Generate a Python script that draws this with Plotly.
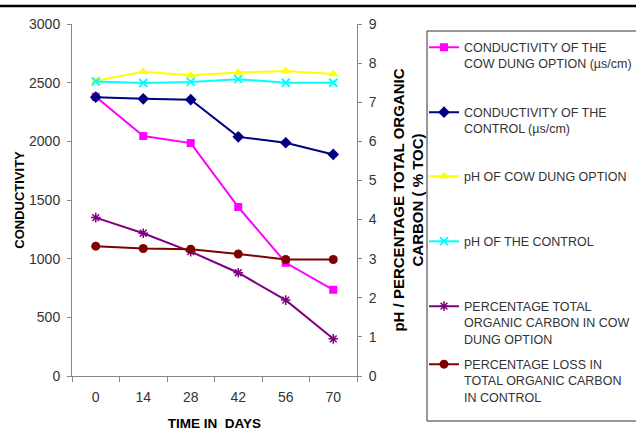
import plotly.graph_objects as go

# ---- data ----
days = ["0", "14", "28", "42", "56", "70"]
cond_cow = [2380, 2045, 1985, 1440, 965, 735]
cond_ctrl = [2376, 2362, 2355, 2038, 1988, 1888]
ph_cow = [7.55, 7.78, 7.69, 7.76, 7.80, 7.72]
ph_ctrl = [7.53, 7.49, 7.52, 7.59, 7.50, 7.50]
toc_cow = [4.05, 3.65, 3.18, 2.64, 1.94, 0.95]
toc_loss_ctrl = [3.32, 3.26, 3.24, 3.12, 2.98, 2.98]

names = [
    "CONDUCTIVITY OF THE<br>COW DUNG OPTION (µs/cm)",
    "CONDUCTIVITY OF THE<br>CONTROL (µs/cm)",
    "pH OF COW DUNG OPTION",
    "pH OF THE CONTROL",
    "PERCENTAGE TOTAL<br>ORGANIC CARBON IN COW<br>DUNG OPTION",
    "PERCENTAGE LOSS IN<br>TOTAL ORGANIC CARBON<br>IN CONTROL",
]

FONT = "Arial, 'Liberation Sans', sans-serif"
W, H = 636, 436
L, R, T, B = 72, 279, 24, 60
PW, PH = W - L - R, H - T - B


def px_x(p):
    return (p - L) / PW


def px_y(p):
    return (H - B - p) / PH


fig = go.Figure()

specs = [
    (cond_cow, "y", "#FF00FF", dict(symbol="square", size=8, color="#FF00FF")),
    (cond_ctrl, "y", "#000080", dict(symbol="diamond", size=9, color="#000080")),
    (ph_cow, "y2", "#FFFF00", dict(symbol="triangle-up", size=9, color="#FFFF00")),
    (ph_ctrl, "y2", "#00FFFF", dict(symbol="x-thin", size=8, color="#00FFFF",
                                    line=dict(color="#00FFFF", width=2))),
    (toc_cow, "y2", "#800080", dict(symbol="asterisk", size=8, color="#800080",
                                    line=dict(color="#800080", width=1.5))),
    (toc_loss_ctrl, "y2", "#800000", dict(symbol="circle", size=9, color="#800000")),
]

legend_names = ["legend", "legend2", "legend3", "legend4", "legend5", "legend6"]
for (vals, yax, col, mk), nm, lg in zip(specs, names, legend_names):
    fig.add_trace(go.Scatter(
        x=days, y=vals, yaxis=yax, name=nm, mode="lines+markers",
        line=dict(color=col, width=2), marker=mk, legend=lg,
    ))

# legend first-line positions (px) in reference
first_lines = [47, 112, 176, 241, 306, 364]
legend_layout = {}
for lg, fl in zip(legend_names, first_lines):
    legend_layout[lg] = dict(
        x=px_x(424), xanchor="left", y=px_y(fl - 14.5), yanchor="top",
        bgcolor="rgba(0,0,0,0)", borderwidth=0, valign="top",
        font=dict(family=FONT, size=12.5, color="#333333"), itemwidth=30,
    )

tickfont = dict(family=FONT, size=14, color="#333333")
axcol = "#868686"

fig.update_layout(
    width=W, height=H,
    margin=dict(l=L, r=R, t=T, b=B, autoexpand=False),
    paper_bgcolor="white", plot_bgcolor="white",
    showlegend=True,
    xaxis=dict(
        type="category", range=[-0.5, 5.5], tickson="boundaries",
        ticks="outside", ticklen=5, tickcolor=axcol, showline=True,
        linecolor=axcol, linewidth=1, showgrid=False, zeroline=False,
        tickfont=tickfont, ticklabelstandoff=8,
        title=dict(text="<b>TIME IN  DAYS</b>", font=dict(family=FONT, size=13.5, color="#000"),
                   standoff=14),
    ),
    yaxis=dict(
        range=[0, 3000], dtick=500, ticks="outside", ticklen=4, tickcolor=axcol,
        showline=True, linecolor=axcol, linewidth=1, showgrid=False,
        zeroline=False, tickfont=tickfont, ticklabelstandoff=4,
        title=dict(text="<b>CONDUCTIVITY</b>", font=dict(family=FONT, size=13, color="#000"),
                   standoff=1),
    ),
    yaxis2=dict(
        range=[0, 9], dtick=1, overlaying="y", side="right", anchor="x",
        ticks="outside", ticklen=4, tickcolor=axcol, showline=True,
        linecolor=axcol, linewidth=1, showgrid=False, zeroline=False,
        tickfont=tickfont, ticklabelstandoff=4,
        title=dict(text="<b>pH / PERCENTAGE TOTAL ORGANIC<br>CARBON ( % TOC)</b>",
                   font=dict(family=FONT, size=15, color="#000"), standoff=17),
    ),
    # overlay axes providing the inner half of the cross tick marks
    xaxis2=dict(
        overlaying="x", anchor="y", range=[-0.5, 5.5], tickmode="array",
        tickvals=[-0.5, 0.5, 1.5, 2.5, 3.5, 4.5, 5.5], ticks="inside", ticklen=5,
        tickcolor=axcol, showticklabels=False, showline=False, showgrid=False,
        zeroline=False,
    ),
    yaxis3=dict(
        overlaying="y", anchor="x", side="left", range=[0, 3000], dtick=500,
        ticks="inside", ticklen=4, tickcolor=axcol, showticklabels=False,
        showline=False, showgrid=False, zeroline=False,
    ),
    yaxis4=dict(
        overlaying="y", anchor="x", side="right", range=[0, 9], dtick=1,
        ticks="inside", ticklen=4, tickcolor=axcol, showticklabels=False,
        showline=False, showgrid=False, zeroline=False,
    ),
    shapes=[
        dict(type="line", xref="paper", yref="paper", x0=px_x(0), x1=px_x(W),
             y0=px_y(6), y1=px_y(6), line=dict(color="black", width=2.5)),
        dict(type="rect", xref="paper", yref="paper", x0=px_x(427), x1=px_x(W + 5),
             y0=px_y(421), y1=px_y(31), line=dict(color="#333333", width=1)),
    ],
    **legend_layout,
)

fig.write_html(
    "out.html",
    config={"displayModeBar": False},
    post_script="document.body.style.margin='0';document.body.style.overflow='hidden';",
)
